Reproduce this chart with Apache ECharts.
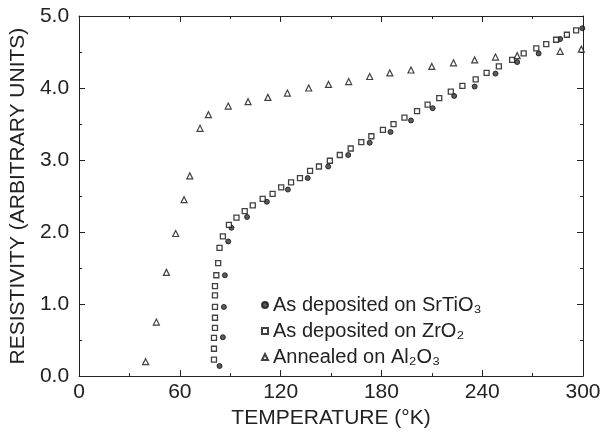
<!DOCTYPE html>
<html>
<head>
<meta charset="utf-8">
<script src="https://cdn.jsdelivr.net/npm/echarts@6/dist/echarts.min.js"></script>
<style>
    html, body { margin: 0; padding: 0; background: #fff; }
    #chart { width: 606px; height: 434px; }
</style>
</head>
<body>
<div id="chart"></div>
<script>
var xTicks = [0, 60, 120, 180, 240, 300]
var yTicks = ['0.0', '1.0', '2.0', '3.0', '4.0', '5.0']

// As deposited on SrTiO3
var tempSrTiO3 = [83.6, 85.6, 86.2, 86.8, 88.8, 90.7, 100, 111.8, 124.3, 136.1, 148.3, 160.2, 173, 185.4,
    197.6, 210.5, 223.3, 235.5, 247.9, 260.8, 273.6, 286.4, 299.6]
var resSrTiO3 = [0.14, 0.54, 0.96, 1.40, 1.87, 2.06, 2.21, 2.42, 2.59, 2.75, 2.91, 3.07, 3.24, 3.39,
    3.55, 3.72, 3.89, 4.02, 4.20, 4.36, 4.48, 4.68, 4.83]

// As deposited on ZrO2
var tempZrO2 = [80.3, 80.3, 80.3, 80.9, 80.9, 80.9, 80.9, 80.9, 81.7, 82.8, 83.6, 85.6, 89.2, 93.7, 98.6,
    103.4, 109.3, 115.2, 120.3, 126.2, 131.5, 137.5, 142.8, 149.3, 155.2, 161.7, 168, 174, 180.9, 187.2,
    193.7, 201.2, 207.5, 214.4, 221.3, 228.2, 236.1, 242.6, 249.9, 257.8, 264.7, 272.2, 278.1, 284,
    290.4, 295.9]
var resZrO2 = [0.23, 0.38, 0.53, 0.67, 0.81, 0.96, 1.12, 1.25, 1.40, 1.57, 1.78, 1.94, 2.10, 2.20, 2.29,
    2.37, 2.46, 2.53, 2.62, 2.69, 2.75, 2.85, 2.91, 2.99, 3.07, 3.16, 3.25, 3.33, 3.42, 3.50,
    3.59, 3.68, 3.77, 3.86, 3.95, 4.03, 4.12, 4.21, 4.30, 4.39, 4.48, 4.55, 4.61, 4.67,
    4.74, 4.80]

// Annealed on Al2O3
var tempAl2O3 = [39.6, 46, 52, 57.5, 62.5, 65.9, 72, 77, 88.8, 100.6, 112.4, 124, 136.7, 148.5, 160.5,
    173, 185, 197.6, 210, 222.9, 235.5, 247.9, 260.8, 286.4, 299]
var resAl2O3 = [0.20, 0.75, 1.44, 1.98, 2.45, 2.78, 3.44, 3.63, 3.75, 3.81, 3.87, 3.93, 4.00, 4.05, 4.09,
    4.16, 4.21, 4.25, 4.30, 4.35, 4.39, 4.43, 4.45, 4.51, 4.54]

var seriesNames = ['As deposited on SrTiO₃', 'As deposited on ZrO₂', 'Annealed on Al₂O₃']

function pairs(xs, ys) {
    return xs.map(function (x, i) {
        return [x, ys[i]]
    })
}

var font = "'Liberation Sans', 'DejaVu Sans', sans-serif"
var ink = '#222'

var chart = echarts.init(document.getElementById('chart'))

// one side of the box frame, ticks pointing in
function frameAxis(pos, type) {
    var a = {
        type: 'value',
        position: pos,
        axisLine: {show: true, onZero: false, lineStyle: {color: ink, width: 1}},
        axisTick: {show: true, inside: true, length: 6, lineStyle: {color: ink}},
        minorTick: {show: true, splitNumber: 2, length: 3, lineStyle: {color: ink}},
        splitLine: {show: false},
        axisLabel: {show: false}
    }
    if (type == 'x') {
        a.min = xTicks[0]
        a.max = xTicks[xTicks.length - 1]
        a.interval = 60
    } else {
        a.min = 0
        a.max = 5
        a.interval = 1
    }
    return a
}

var xBottom = frameAxis('bottom', 'x')
xBottom.axisLabel = {show: true, color: ink, fontFamily: font, fontSize: 21, margin: 6}
xBottom.name = 'TEMPERATURE (°K)'
xBottom.nameLocation = 'middle'
xBottom.nameGap = 23
xBottom.nameTextStyle = {color: ink, fontFamily: font, fontSize: 21}

var yLeft = frameAxis('left', 'y')
yLeft.axisLabel = {
    show: true, color: ink, fontFamily: font, fontSize: 21, margin: 10,
    formatter: function (v) {
        return yTicks[Math.round(v)]
    }
}
yLeft.name = 'RESISTIVITY (ARBITRARY UNITS)'
yLeft.nameLocation = 'middle'
yLeft.nameGap = 49
yLeft.nameTextStyle = {color: ink, fontFamily: font, fontSize: 21}

var option = {
    animation: false,
    backgroundColor: '#fff',
    grid: {left: 76, right: 23, top: 16, bottom: 49},
    xAxis: [xBottom, frameAxis('top', 'x')],
    yAxis: [yLeft, frameAxis('right', 'y')],
    legend: {
        orient: 'vertical',
        left: 256,
        top: 287,
        itemWidth: 6,
        itemHeight: 6,
        itemGap: 0,
        textStyle: {color: ink, fontFamily: font, fontSize: 20, lineHeight: 26},
        data: seriesNames
    },
    series: [
        {
            name: seriesNames[0],
            type: 'scatter',
            symbol: 'circle',
            symbolSize: 5,
            itemStyle: {color: '#333', borderColor: '#111', borderWidth: 1},
            data: pairs(tempSrTiO3, resSrTiO3)
        },
        {
            name: seriesNames[1],
            type: 'scatter',
            symbol: 'rect',
            symbolSize: 5,
            itemStyle: {color: '#fff', borderColor: '#111', borderWidth: 1.3},
            data: pairs(tempZrO2, resZrO2)
        },
        {
            name: seriesNames[2],
            type: 'scatter',
            symbol: 'triangle',
            symbolSize: 6,
            itemStyle: {color: '#fff', borderColor: '#111', borderWidth: 1.2},
            data: pairs(tempAl2O3, resAl2O3)
        }
    ]
}

chart.setOption(option)
</script>
</body>
</html>
